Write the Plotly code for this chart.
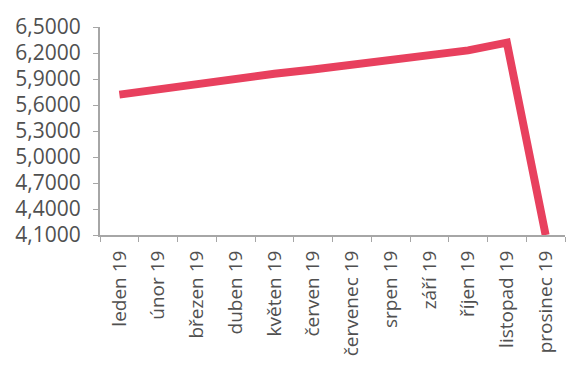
import plotly.graph_objects as go

months = ["leden 19", "únor 19", "březen 19", "duben 19", "květen 19", "červen 19",
          "červenec 19", "srpen 19", "září 19", "říjen 19", "listopad 19", "prosinec 19"]
values = [5.72, 5.78, 5.85, 5.92, 5.96, 6.01, 6.07, 6.13, 6.18, 6.23, 6.32, 4.10]
y_ticks = [4.1, 4.4, 4.7, 5.0, 5.3, 5.6, 5.9, 6.2, 6.5]

fig = go.Figure(go.Scatter(
    x=months, y=values, mode="lines",
    line=dict(color="#E8405E", width=8),
))

fig.update_layout(
    width=578, height=368,
    margin=dict(l=100, r=13, t=20, b=131),
    paper_bgcolor="white", plot_bgcolor="white",
    separators=", ",
    showlegend=False,
    font=dict(family="Open Sans", color="#595959"),
)
fig.update_xaxes(
    type="category", range=[-0.5, 11.5],
    tickson="boundaries", ticks="outside", ticklen=5, tickcolor="#a6a6a6",
    showline=True, linecolor="#a6a6a6", linewidth=2,
    showgrid=False, tickangle=-90, tickfont=dict(size=19, color="#505050"),
    ticklabelstandoff=6,
)
fig.update_yaxes(
    range=[4.1, 6.5], tickvals=y_ticks, tickformat=".4f",
    ticks="outside", ticklen=5, tickcolor="#a6a6a6",
    showline=True, linecolor="#a6a6a6", linewidth=2,
    showgrid=False, zeroline=False, tickfont=dict(size=21, color="#505050"),
    ticklabelstandoff=8,
)

fig.write_html("out.html")
